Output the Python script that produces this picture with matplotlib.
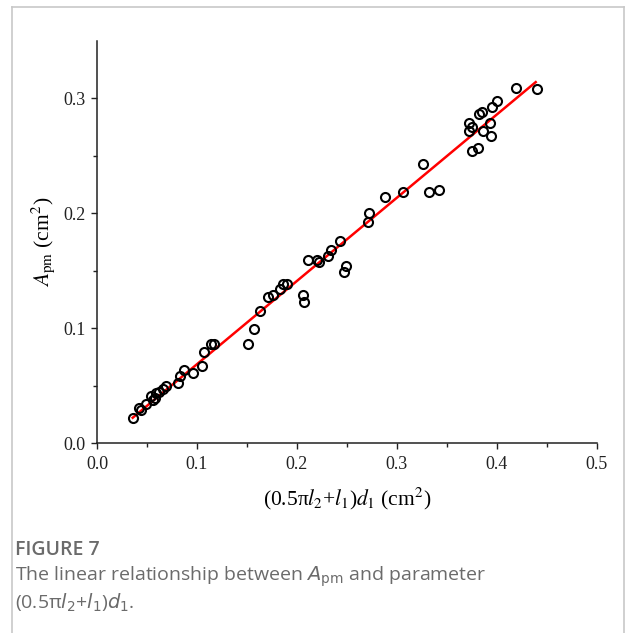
import matplotlib
matplotlib.use("Agg")
import matplotlib.pyplot as plt
from matplotlib.lines import Line2D

# data
x_vals = [0.0357, 0.0417, 0.0440, 0.0487, 0.0540, 0.0557, 0.0575, 0.0590, 0.0620, 0.0657, 0.0690,
          0.0813, 0.0830, 0.0873, 0.0963, 0.1047, 0.1067, 0.1140, 0.1173, 0.1507, 0.1570, 0.1630,
          0.1713, 0.1763, 0.1830, 0.1863, 0.1897, 0.2057, 0.2070, 0.2113, 0.2197, 0.2223, 0.2307,
          0.2340, 0.2430, 0.2490, 0.2473, 0.2707, 0.2723, 0.2880, 0.3057, 0.3257, 0.3317, 0.3417,
          0.3720, 0.3723, 0.3750, 0.3753, 0.3813, 0.3817, 0.3853, 0.3857, 0.3930, 0.3940, 0.3953,
          0.3997, 0.4187, 0.4397]
y_vals = [0.0221, 0.0308, 0.0285, 0.0340, 0.0410, 0.0375, 0.0390, 0.0433, 0.0445, 0.0468, 0.0497,
          0.0520, 0.0584, 0.0636, 0.0613, 0.0674, 0.0788, 0.0863, 0.0863, 0.0866, 0.0991, 0.1145,
          0.1273, 0.1288, 0.1340, 0.1380, 0.1387, 0.1288, 0.1227, 0.1596, 0.1596, 0.1572, 0.1631,
          0.1683, 0.1762, 0.1538, 0.1485, 0.1921, 0.2003, 0.2143, 0.2183, 0.2430, 0.2183, 0.2200,
          0.2788, 0.2715, 0.2753, 0.2546, 0.2567, 0.2866, 0.2880, 0.2715, 0.2788, 0.2671, 0.2927,
          0.2976, 0.3093, 0.3084]
fit_x = [0.0357, 0.4387]
fit_y = [0.0220, 0.3142]
x_ticks = [0.0, 0.1, 0.2, 0.3, 0.4, 0.5]
y_ticks = [0.0, 0.1, 0.2, 0.3]

plt.rcParams['font.family'] = ['Liberation Serif', 'DejaVu Serif']
plt.rcParams['mathtext.fontset'] = 'stix'

fig = plt.figure(figsize=(6.25, 6.33), dpi=100)
ax = fig.add_axes([97/625, 1-443/633, 500/625, 402/633])

ax.plot(fit_x, fit_y, color='#ff0000', lw=1.8, zorder=2)
ax.plot(x_vals, y_vals, linestyle='none', marker='o', markersize=6.5,
        markerfacecolor='none', markeredgecolor='black', markeredgewidth=1.5, zorder=3)

ax.set_xlim(0, 0.5)
ax.set_ylim(0, 0.35)
ax.set_xticks(x_ticks)
ax.set_yticks(y_ticks)
ax.set_xticklabels([f"{v:.1f}" for v in x_ticks])
ax.set_yticklabels([f"{v:.1f}" for v in y_ticks])
ax.set_xticks([0.05, 0.15, 0.25, 0.35, 0.45], minor=True)
ax.set_yticks([0.05, 0.15, 0.25], minor=True)
ax.tick_params(which='major', direction='out', length=4.5, width=1.0, labelsize=13, colors='#222222')
ax.tick_params(which='minor', direction='out', length=3, width=1.0, colors='#222222')
ax.tick_params(axis='x', pad=5)
for s in ['top', 'right']:
    ax.spines[s].set_visible(False)
for s in ['left', 'bottom']:
    ax.spines[s].set_linewidth(1.1)
    ax.spines[s].set_color('#222222')

ax.set_xlabel('(0.5π$l_2$+$l_1$)$d_1$ (cm$^2$)', fontsize=15.5, labelpad=9)
ax.set_ylabel('$A_{\\rm pm}$ (cm$^2$)', fontsize=15.5, labelpad=5)

# frame
fig.add_artist(Line2D([12/625, 624/625], [1-7/633, 1-7/633], color='#c8c8c8', lw=1.2))
fig.add_artist(Line2D([12/625, 12/625], [1-7/633, 0], color='#c8c8c8', lw=1.2))
fig.add_artist(Line2D([624/625, 624/625], [1-7/633, 0], color='#c8c8c8', lw=1.2))

cap_color = '#6b6b6b'
fig.text(15/625, 1-550/633, 'FIGURE 7', family='Open Sans', fontsize=14, weight='semibold',
         color=cap_color, va='center', ha='left')
fig.text(15/625, 1-577/633, 'The linear relationship between $A_{\\mathrm{pm}}$ and parameter',
         family='Open Sans', fontsize=14, color=cap_color, va='center', ha='left',
         math_fontfamily='dejavusans')
fig.text(15/625, 1-603/633, '(0.5π$l_2$+$l_1$)$d_1$.',
         family=['Open Sans', 'DejaVu Sans'], fontsize=14, color=cap_color, va='center', ha='left',
         math_fontfamily='dejavusans')

fig.savefig('out.png', dpi=100)
